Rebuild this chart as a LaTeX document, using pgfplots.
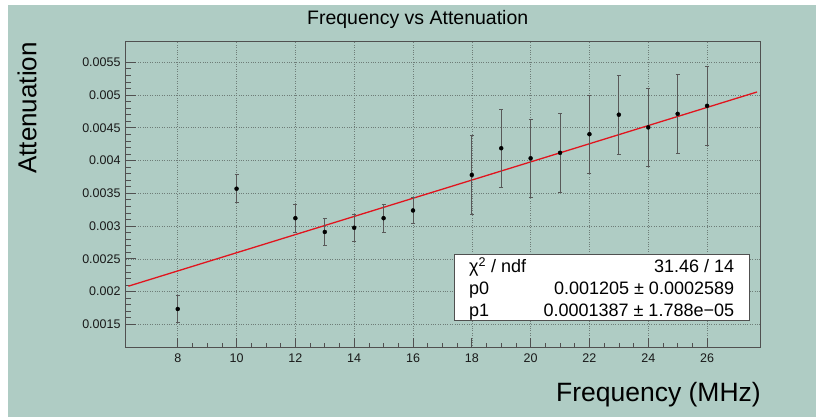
\documentclass[border=0pt]{standalone}
\usepackage{pgfplots}
\pgfplotsset{compat=1.18}
\usepackage{fontspec}
\setmainfont{Liberation Sans}
\definecolor{bgteal}{RGB}{175,204,196}
\definecolor{axgray}{RGB}{80,80,80}
\definecolor{gridc}{RGB}{110,125,120}
\definecolor{fitred}{RGB}{225,20,30}
\begin{document}
\begin{tikzpicture}[x=1pt,y=1pt]
\fill[white] (0,0) rectangle (816,417);
\fill[bgteal] (8,0) rectangle (816,412);
\begin{axis}[
  at={(125.7pt,69.3pt)}, anchor=south west,
  width=634.3pt, height=306.7pt, scale only axis,
  xmin=6.23, xmax=27.8, ymin=0.001143, ymax=0.005825,
  axis background/.style={fill=bgteal},
  axis line style={axgray, line width=0.8pt},
  xtick={8,10,...,26},
  ytick={0.0015,0.002,0.0025,0.003,0.0035,0.004,0.0045,0.005,0.0055},
  yticklabels={0.0015,0.002,0.0025,0.003,0.0035,0.004,0.0045,0.005,0.0055},
  scaled y ticks=false,
  minor x tick num=3, minor y tick num=4,
  tick align=inside, xtick pos=bottom, ytick pos=left,
  major tick length=10pt, minor tick length=5pt,
  tick style={axgray, line width=0.7pt},
  grid=major,
  major grid style={gridc, dotted, line width=0.6pt},
  /pgf/number format/assume math mode=true,
  ticklabel style={font=\fontsize{12.5}{14}\selectfont, text=black!90},
  xticklabel style={inner sep=0pt, yshift=-6pt},
  yticklabel style={inner sep=0pt, xshift=-5pt},
]
\addplot[color=fitred, line width=1.3pt] coordinates {(6.32,0.002082) (27.7,0.005047)};
\addplot[only marks, mark=*, mark size=2pt, black,
  error bars/.cd, y dir=both, y explicit,
  error bar style={black!65, line width=0.8pt},
  error mark options={rotate=90, mark size=2pt, black!65, line width=0.8pt}]
  table[x=x, y=y, y error=ey] {
x y ey
8 0.001734 0.00021
10 0.00357 0.000215
12 0.00312 0.00021
13 0.00291 0.00021
14 0.002974 0.00021
15 0.00312 0.00021
16 0.003238 0.0002
18 0.00378 0.0006
19 0.004188 0.0006
20 0.004035 0.0006
21 0.004118 0.0006
22 0.004402 0.0006
23 0.0047 0.0006
24 0.004506 0.0006
25 0.004713 0.0006
26 0.004835 0.0006
};
\end{axis}
% stats box
\draw[fill=white, draw=axgray, line width=0.8pt] (454.3,96.7) rectangle (749.3,162.7);
\begin{scope}[every node/.style={inner sep=0pt, font=\fontsize{18}{20}\selectfont}]
\node[anchor=base west] at (469,144.7) {χ\textsuperscript{2} / ndf};
\node[anchor=base west] at (469,122.7) {p0};
\node[anchor=base west] at (469,100.3) {p1};
\node[anchor=base east] at (734.3,144.7) {31.46 / 14};
\node[anchor=base east] at (734.3,122.7) {0.001205 ± 0.0002589};
\node[anchor=base east] at (734.3,100.3) {0.0001387 ± 1.788e−05};
\end{scope}
% titles
\node[anchor=base, inner sep=0pt, font=\fontsize{19.5}{22}\selectfont] at (417.7,392.7) {Frequency vs Attenuation};
\node[anchor=base east, inner sep=0pt, font=\fontsize{26.5}{30}\selectfont] at (761,15.3) {Frequency (MHz)};
\node[rotate=90, inner sep=0pt, font=\fontsize{26}{30}\selectfont] at (27,309) {Attenuation};
\end{tikzpicture}
\end{document}
